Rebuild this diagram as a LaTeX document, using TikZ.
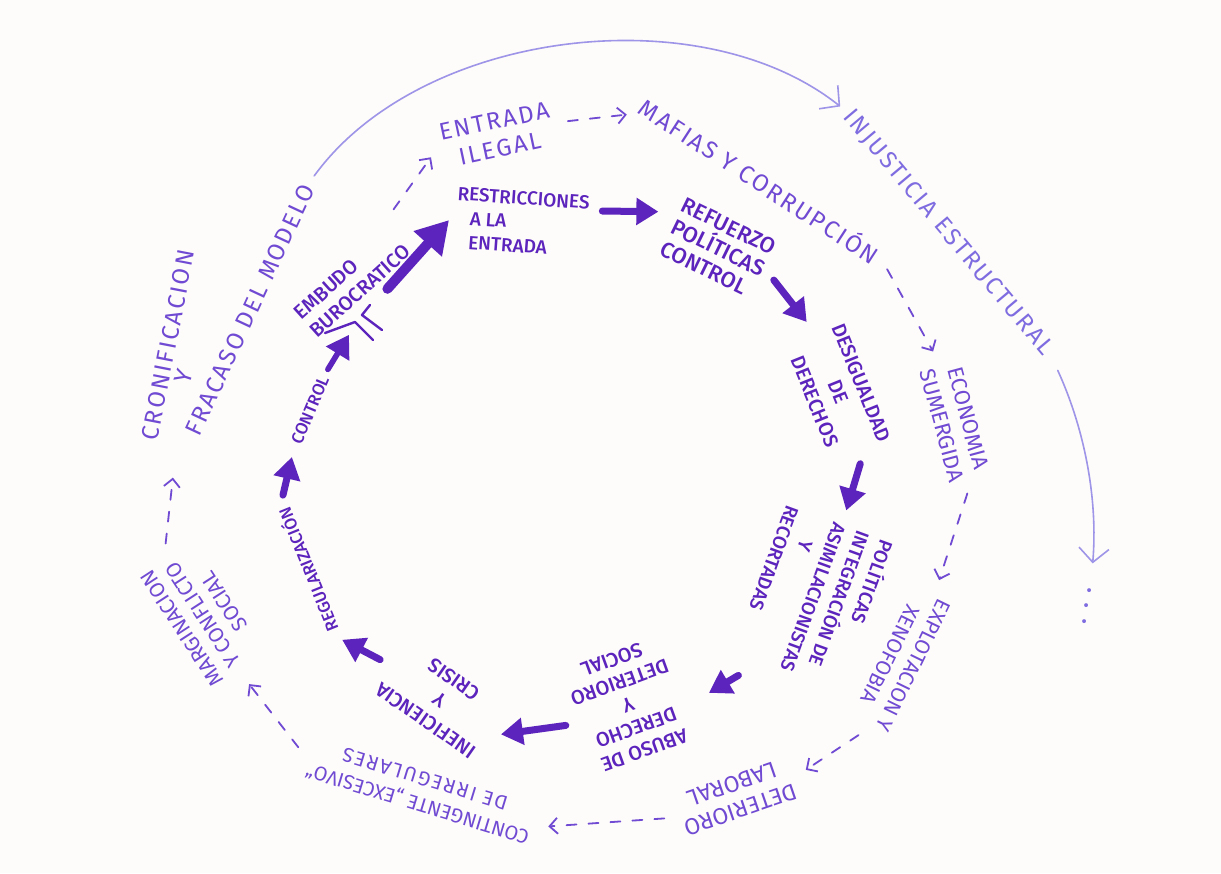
\documentclass[tikz,border=0pt]{standalone}
\usepackage{fontspec}
\setmainfont{Fira Sans}
\newfontfamily\medfont{Fira Sans Medium}
\usetikzlibrary{arrows.meta}
\definecolor{paper}{RGB}{253,252,250}
\definecolor{inkdark}{RGB}{92,36,188}
\definecolor{inkmid}{RGB}{112,74,210}
\definecolor{inklight}{RGB}{126,108,224}
\definecolor{arcline}{RGB}{158,148,232}
\newcommand\fsz[2]{\fontsize{#1}{#2}\selectfont}
\newcommand\ifsz[2]{\medfont\fontsize{#1}{#2}\selectfont}
\newcommand\wide{\addfontfeatures{LetterSpace=9}}
\tikzset{
  inner/.style={text=inkdark, align=center, inner sep=2pt},
  outer/.style={text=inkmid, align=center, inner sep=2pt},
  outerlight/.style={text=inklight, align=center, inner sep=2pt},
  bold/.style={draw=inkdark, line width=3.5pt, -{Triangle[length=11pt,width=13pt]}, shorten <=5pt, shorten >=5pt},
  bigbold/.style={draw=inkdark, line width=5pt, -{Triangle[length=16pt,width=18pt]}},
  dasharrow/.style={draw=inkmid, line width=0.9pt, dash pattern=on 5pt off 6pt, -{Straight Barb[length=4pt,width=8pt]}, shorten <=6pt, shorten >=6pt},
  thinarc/.style={draw=arcline, line width=0.8pt, -{Straight Barb[length=7pt,width=15pt]}}
}
\begin{document}
\begin{tikzpicture}[x=0.5pt, y=-0.5pt, line join=round, line cap=round]
 \fill[paper] (0,0) rectangle (1221,873);
 \useasboundingbox (0,0) rectangle (1221,873);
 % inner cycle
 \node[inner, font=\ifsz{9.5}{12}, rotate=-4, align=left] (restr) at (522,222) {RESTRICCIONES\\\hspace*{7pt}A LA\\\hspace*{7pt}ENTRADA};
 \node[inner, font=\ifsz{11}{12}, rotate=-26, align=left] (refuerzo) at (718,248) {REFUERZO\\POLÍTICAS\\CONTROL};
 \node[inner, font=\ifsz{10}{12.5}, rotate=-68] (desig) at (838,392) {DESIGUALDAD\\DE\\DERECHOS};
 \node[inner, font=\ifsz{9.5}{12.5}, rotate=-110, align=left] (polit) at (815,598) {POLÍTICAS\\INTEGRACIÓN DE\\ASIMILACIONISTAS\\\hspace*{14pt}Y\\RECORTADAS};
 \node[inner, font=\ifsz{10}{12}, rotate=200] (abuso) at (628,705) {ABUSO DE\\DERECHO\\Y\\DETERIORO\\SOCIAL};
 \node[inner, font=\ifsz{10}{12.5}, rotate=145] (inef) at (440,700) {INEFICIENCIA\\Y\\CRISIS};
 \node[inner, font=\ifsz{8.5}{10}, rotate=112] (regul) at (307,570) {REGULARIZACIÓN};
 \node[inner, font=\ifsz{8.5}{10}, rotate=67] (control) at (310,410) {CONTROL};
 \node[inner, font=\ifsz{10}{12}, rotate=42, align=left] (embudo) at (352,282) {EMBUDO\\BUROCRATICO};
 \node[inner sep=3pt] (funnel) at (355,325) {};
 \draw[inkdark, line width=1.2pt] (funnel) ++(-30,8) -- ++(30,-11) -- ++(18,18)
   (funnel) ++(15,-20) -- ++(-8,10) -- ++(20,15);
 % outer cycle
 \node[outer, font=\fsz{12}{14}\wide, rotate=12] (entrada) at (497,135) {ENTRADA\\ILEGAL};
 \node[outer, font=\fsz{12}{14}\wide, rotate=-33] (mafias) at (760,180) {MAFIAS Y CORRUPCIÓN};
 \node[outer, font=\fsz{11}{13.5}, rotate=-75] (econ) at (955,422) {ECONOMIA\\SUMERGIDA};
 \node[outer, font=\fsz{10.5}{13}, rotate=-116] (explot) at (902,660) {EXPLOTACION Y\\XENOFOBIA};
 \node[outer, font=\fsz{11.5}{13.5}, rotate=199] (deter) at (736,797) {DETERIORO\\LABORAL};
 \node[outer, font=\fsz{10}{13}, rotate=163] (conting) at (421,792) {CONTINGENTE „EXCESIVO“\\{\wide DE IRREGULARES}};
 \node[outer, font=\fsz{10.5}{12.5}, rotate=123] (margin) at (203,615) {MARGINACION\\Y CONFLICTO\\SOCIAL};
 \node[outer, font=\fsz{12}{14}\wide, rotate=79] (cron) at (168,345) {CRONIFICACION};
 \node[outer, font=\fsz{12}{14}, rotate=72] (cronY) at (184,377) {Y};
 \node[outer, font=\fsz{12}{14}\wide, rotate=65] (fracaso) at (250,310) {FRACASO DEL MODELO};
 \node[outerlight, font=\fsz{12}{14}\wide, rotate=-50] (injusticia) at (948,233) {INJUSTICIA ESTRUCTURAL};
 \node[outerlight, font=\ifsz{12}{14}, rotate=-100] (dots) at (1087,606) {.\hspace{5pt}.\hspace{5pt}.};
 % bold arrows
 \draw[bold] ([yshift=8pt]restr.east) -- ([yshift=6pt]refuerzo.west);
 \draw[bold] (refuerzo.east) -- (desig.west);
 \draw[bold] (desig.east) -- (polit.west);
 \draw[bold] ([xshift=10pt,yshift=-8pt]polit.south east) -- ([xshift=10pt,yshift=-6pt]abuso.west);
 \draw[bold] (abuso.east) -- (inef.west);
 \draw[bold] (inef.east) -- (regul.west);
 \draw[bold] (regul.east) -- (control.west);
 \draw[bold, line width=2.8pt, shorten <=2pt, shorten >=2pt] (control.east) -- (funnel);
 \draw[bigbold, shorten <=20pt, shorten >=2pt] (funnel) -- (restr.west);
 % dashed arrows
 \draw[dasharrow] (embudo.north east) -- (entrada.west);
 \draw[dasharrow] (entrada.east) -- ([yshift=-6pt]mafias.west);
 \draw[dasharrow] (mafias.east) -- (econ.west);
 \draw[dasharrow] (econ.east) -- (explot.west);
 \draw[dasharrow] (explot.east) -- (deter.west);
 \draw[dasharrow] (deter.east) -- (conting.west);
 \draw[dasharrow] (conting.east) -- (margin.west);
 \draw[dasharrow, shorten >=45pt] (margin.east) -- (cronY);
 % thin arcs
 \draw[thinarc, shorten <=4pt, shorten >=3pt] (fracaso.east) .. controls (420,30) and (700,-5) .. (injusticia.west);
 \draw[thinarc, shorten <=8pt, shorten >=10pt] (injusticia.east) .. controls (1085,430) and (1098,500) .. (dots.west);
\end{tikzpicture}
\end{document}
